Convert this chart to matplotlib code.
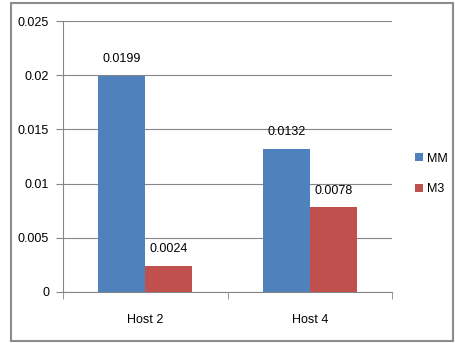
import matplotlib.pyplot as plt
import numpy as np
from matplotlib.patches import Rectangle

hosts = ['Host 2', 'Host 4']
mm = [0.0199, 0.0132]
m3 = [0.0024, 0.0078]
mm_labels = ['0.0199', '0.0132']
m3_labels = ['0.0024', '0.0078']

plt.rcParams['font.family'] = ['Liberation Sans', 'DejaVu Sans']
fs = 9

fig = plt.figure(figsize=(4.55, 3.43), dpi=100)
fig.patches.append(Rectangle((11 / 455, 1 - 341 / 343), 442 / 455, 338 / 343,
                             transform=fig.transFigure, fill=False,
                             edgecolor='#8c8c8c', linewidth=1.5))
ax = fig.add_axes([63 / 455, 1 - 292 / 343, 329 / 455, 271 / 343])

x = np.arange(len(hosts))
w = 0.286
b1 = ax.bar(x - w / 2, mm, w, color='#4f81bd', label='MM')
b2 = ax.bar(x + w / 2, m3, w, color='#c0504d', label='M3')

for rect, lab in zip(b1, mm_labels):
    ax.text(rect.get_x() + rect.get_width() / 2, rect.get_height() + 0.0010, lab,
            ha='center', va='bottom', fontsize=fs)
for rect, lab in zip(b2, m3_labels):
    ax.text(rect.get_x() + rect.get_width() / 2, rect.get_height() + 0.0010, lab,
            ha='center', va='bottom', fontsize=fs)

ax.set_xlim(-0.5, 1.5)
ax.set_ylim(0, 0.025)
ax.set_yticks([0, 0.005, 0.01, 0.015, 0.02, 0.025])
ax.set_yticklabels(['0', '0.005', '0.01', '0.015', '0.02', '0.025'], fontsize=fs)
ax.set_xticks(x)
ax.set_xticklabels(hosts, fontsize=fs)
ax.set_xticks([-0.5, 0.5, 1.5], minor=True)
ax.tick_params(axis='x', which='major', length=0, pad=16)
ax.tick_params(axis='x', which='minor', length=5, color='#868686')
ax.tick_params(axis='y', length=5, color='#868686', pad=5)
ax.grid(axis='y', color='#868686', linewidth=0.8)
ax.set_axisbelow(True)
for s in ['top', 'right']:
    ax.spines[s].set_visible(False)
ax.spines['left'].set_color('#868686')
ax.spines['bottom'].set_color('#868686')

fig.legend(handles=[b1, b2], labels=['MM', 'M3'], loc='center left',
           bbox_to_anchor=(404 / 455, 1 - 174 / 343), frameon=False,
           fontsize=fs, handlelength=0.6, handleheight=0.6,
           handletextpad=0.3, labelspacing=1.5)

fig.savefig('out.png', dpi=100)
